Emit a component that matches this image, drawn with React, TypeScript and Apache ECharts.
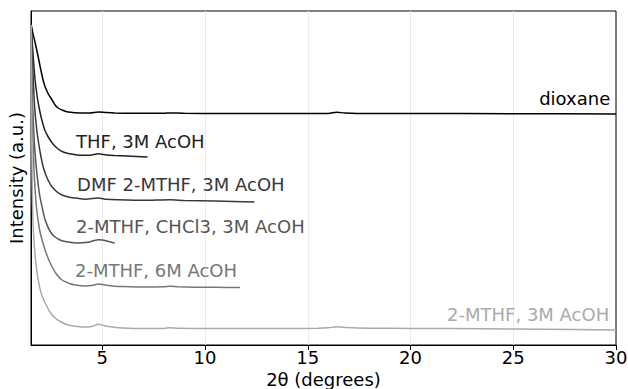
import React, { useEffect, useRef } from "react";
import * as echarts from "echarts";

const xTicks = [5, 10, 15, 20, 25, 30];
const gridXs = [5, 10, 15, 20, 25];

const dioxaneX = [1.54,1.62,1.7,1.8,1.88,1.97,2.05,2.13,2.22,2.4,2.56,2.7,2.85,3.1,3.34,3.7,4.0,4.4,4.8,5.2,5.6,6.5,8,8.3,9,11,14,16,16.4,16.8,18,20,25,30];
const dioxaneY = [320,312,305,296,288,279,271,264,258,250,245,240,237,234.5,233,232.3,232,232,233,232.4,232,231.8,231.7,232.1,231.7,231.6,231.5,231.6,232.8,232,231.5,231.5,231.3,231];

const thfX = [1.54,1.6,1.66,1.73,1.82,1.9,2.0,2.07,2.2,2.37,2.6,2.85,3.1,3.34,3.7,4.0,4.4,4.8,5.2,5.6,6.2,7.2];
const thfY = [320,300,282,265,250,240,230,224,215,208,201,196,193,191.5,190.3,189.7,189.7,191.2,190,189.5,189,188];

const dmfX = [1.54,1.58,1.63,1.7,1.8,1.9,2.0,2.1,2.2,2.38,2.56,2.8,3.04,3.35,3.68,4.2,4.8,5.2,5.8,7,8.3,9,10.5,12.4];
const dmfY = [320,295,270,240,217,202,190,180,173,164,158,153,150,148,147,145.8,147,145.7,145.2,144.7,145.3,144.5,144,143];

const chclX = [1.54,1.57,1.6,1.65,1.7,1.8,1.95,2.1,2.22,2.45,2.7,3.0,3.34,3.8,4.3,4.6,4.8,5.0,5.3,5.6];
const chclY = [320,280,245,220,200,175,150,135,125,114,108,104.5,103,102,102.8,104.5,105.3,105,103.5,102];

const m6X = [1.54,1.56,1.6,1.65,1.7,1.8,1.95,2.07,2.3,2.56,2.8,3.04,3.4,3.68,4.2,4.55,4.8,5.1,5.5,6,7,8,8.3,8.7,9.5,10.5,11.7];
const m6Y = [320,265,225,190,165,137,115,105,90,78,70,65,61.5,60,59,59.8,61,60.2,59,58.5,58,58.2,58.7,58.2,57.8,57.7,57.5];

const m3X = [1.54,1.55,1.57,1.6,1.65,1.75,1.88,2.05,2.22,2.45,2.7,3.0,3.34,3.8,4.3,4.55,4.8,5.1,5.5,6,7,8,8.3,8.7,10,12,14,15.5,16,16.4,16.9,18,20,22,25,28,30];
const m3Y = [320,265,195,145,113,85,65,50,42,33,27,23,20,18.5,18,18.8,20.7,19.3,18,17,16.5,16.6,17.3,16.7,16.4,16.4,16.5,16.7,17.2,18.2,17.4,16.8,16.6,16.4,16,15.4,15];

const seriesNames = ["dioxane", "THF, 3M AcOH", "DMF 2-MTHF, 3M AcOH", "2-MTHF, CHCl3, 3M AcOH", "2-MTHF, 6M AcOH", "2-MTHF, 3M AcOH"];
const seriesColors = ["#000000", "#222222", "#383838", "#555555", "#777777", "#aaaaaa"];
const seriesXs = [dioxaneX, thfX, dmfX, chclX, m6X, m3X];
const seriesYs = [dioxaneY, thfY, dmfY, chclY, m6Y, m3Y];
// label anchor in data coordinates and alignment
const labelX = [29.72, 3.72, 3.77, 3.72, 3.67, 29.67];
const labelY = [247, 204, 161, 119, 75, 30.5];
const labelAlign = ["right", "left", "left", "left", "left", "right"];

const FONT = "DejaVu Sans";
const FS = 18;

export default function App() {
  const ref = useRef<HTMLDivElement>(null);
  useEffect(() => {
    if (!ref.current) return;
    const chart = echarts.init(ref.current, undefined, { renderer: "svg" });
    const series: any[] = seriesNames.map((name, i) => ({
      name,
      type: "line",
      data: seriesXs[i].map((x, k) => [x, seriesYs[i][k]]),
      showSymbol: false,
      symbol: "none",
      smooth: 0.25,
      lineStyle: { color: seriesColors[i], width: 1.5 },
      z: 3,
      markPoint: {
        symbol: "circle",
        symbolSize: 0,
        silent: true,
        data: [
          {
            coord: [labelX[i], labelY[i]],
            label: {
              show: true,
              position: "inside",
              formatter: name,
              align: labelAlign[i],
              verticalAlign: "middle",
              color: seriesColors[i],
              fontFamily: FONT,
              fontSize: FS,
            },
          },
        ],
      },
    }));
    series.push({
      type: "line",
      data: [],
      z: 0,
      silent: true,
      markLine: {
        silent: true,
        symbol: "none",
        label: { show: false },
        lineStyle: { color: "#ebebeb", width: 1, type: "solid" },
        data: gridXs.map((v) => ({ xAxis: v })),
        z: 0,
      },
    });
    chart.setOption({
      animation: false,
      grid: {
        left: 31,
        right: 12,
        top: 11,
        bottom: 44,
        outerBoundsMode: "none",
        containLabel: false,
        show: true,
        borderColor: "#000",
        borderWidth: 1,
        backgroundColor: "transparent",
      },
      xAxis: {
        type: "value",
        min: 1.53,
        max: 30,
        name: "2θ (degrees)",
        nameLocation: "middle",
        nameGap: 25,
        nameTextStyle: { fontFamily: FONT, fontSize: FS, color: "#000" },
        axisLine: { show: true, lineStyle: { color: "#000", width: 1 } },
        axisTick: { show: true, customValues: xTicks, length: 5, lineStyle: { color: "#000" } },
        axisLabel: { customValues: xTicks, fontFamily: FONT, fontSize: FS, color: "#000", margin: 3 },
        splitLine: { show: false },
      },
      yAxis: {
        type: "value",
        min: 0,
        max: 334,
        name: "Intensity (a.u.)",
        nameLocation: "middle",
        nameGap: 6,
        nameTextStyle: { fontFamily: FONT, fontSize: FS, color: "#000" },
        axisLine: { show: true, lineStyle: { color: "#000", width: 1 } },
        axisTick: { show: false },
        axisLabel: { show: false },
        splitLine: { show: false },
      },
      series,
    });
    return () => chart.dispose();
  }, []);
  return (
    <div
      ref={ref}
      style={{ position: "fixed", left: 0, top: 0, width: 628, height: 389, background: "#fff" }}
    />
  );
}
